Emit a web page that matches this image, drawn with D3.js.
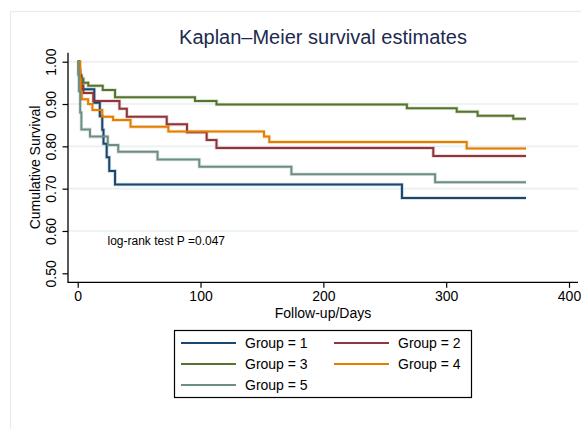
<!DOCTYPE html>
<html>
<head>
<meta charset="utf-8">
<script src="https://cdn.jsdelivr.net/npm/d3@7"></script>
<style>
  body { margin: 0; background: #fff; }
  svg { display: block; font-family: "Liberation Sans", Arial, sans-serif; }
</style>
</head>
<body>
<svg id="chart"></svg>
<script>
// ---- data ----
const groupNames = ['Group = 1', 'Group = 2', 'Group = 3', 'Group = 4', 'Group = 5'];

const g1Days = [0, 1, 3, 13.5, 18, 20, 21, 23.6, 25.7, 30.4, 264, 365];
const g1Surv = [1, 0.968, 0.935, 0.903, 0.871, 0.839, 0.806, 0.774, 0.742, 0.710, 0.678, 0.678];

const g2Days = [0, 1, 2, 3, 4.6, 12.7, 34, 40, 72.5, 89, 105, 113, 289.5, 365];
const g2Surv = [1, 0.981, 0.963, 0.944, 0.926, 0.907, 0.889, 0.870, 0.852, 0.833, 0.815, 0.796, 0.777, 0.777];

const g3Days = [0, 1, 2, 4.6, 8.6, 20.4, 30.4, 95.5, 113, 268, 308.6, 325.6, 354.6, 365];
const g3Surv = [1, 0.975, 0.96, 0.950, 0.943, 0.933, 0.916, 0.907, 0.899, 0.890, 0.882, 0.872, 0.865, 0.865];

const g4Days = [0, 2, 2.5, 3.3, 8.5, 12, 20, 28.8, 43, 73.8, 151.7, 156, 316.7, 365];
const g4Surv = [1, 0.96, 0.93, 0.911, 0.900, 0.886, 0.870, 0.862, 0.846, 0.835, 0.823, 0.810, 0.795, 0.795];

const g5Days = [0, 0.5, 1, 2, 3, 10, 24.5, 33, 65, 99, 174, 291, 365];
const g5Surv = [1, 0.97, 0.93, 0.88, 0.840, 0.823, 0.803, 0.787, 0.769, 0.752, 0.734, 0.715, 0.715];

const xTicks = [0, 100, 200, 300, 400];
const yTicks = [0.5, 0.6, 0.7, 0.8, 0.9, 1.0];
const gridTicks = [0.6, 0.7, 0.8, 0.9, 1.0];

const titleText = 'Kaplan–Meier survival estimates';
const xTitle = 'Follow-up/Days';
const yTitle = 'Cumulative Survival';
const noteText = 'log-rank test P =0.047';

// stata s2color line colours
const groupColors = ['#1a476f', '#90353b', '#55752f', '#e37e00', '#6e8e84'];

class KMPlot {
  constructor(_config, _data) {
    this.config = {
      parentElement: _config.parentElement,
      containerWidth: _config.containerWidth || 581,
      containerHeight: _config.containerHeight || 429,
      // plot region edges (axis lines)
      plot: _config.plot || { left: 68, right: 578, top: 52.7, bottom: 282.3 }
    };
    this.data = _data;
    this.initVis();
  }

  initVis() {
    let vis = this;
    const p = vis.config.plot;

    vis.svg = d3.select(vis.config.parentElement)
      .attr('width', vis.config.containerWidth)
      .attr('height', vis.config.containerHeight);

    // faint outer graph-region border
    vis.svg.append('rect')
      .attr('x', 10.5).attr('y', 11.5)
      .attr('width', 620).attr('height', 500)
      .attr('fill', 'none')
      .attr('stroke', '#e3ecee')
      .attr('stroke-width', 1.2);

    // scales: tick 0 / 400 and 0.5 / 1.0 sit a little inside the plot region
    vis.xScale = d3.scaleLinear().domain([0, 400]).range([77.7, 569]);
    vis.yScale = d3.scaleLinear().domain([0.5, 1]).range([273.3, 61.7]);

    vis.xAxis = d3.axisBottom(vis.xScale)
      .tickValues(xTicks)
      .tickSize(5.5)
      .tickPadding(3)
      .tickFormat(d3.format('d'));

    vis.yAxis = d3.axisLeft(vis.yScale)
      .tickValues(yTicks)
      .tickSize(5.5)
      .tickFormat(d3.format('.2f'));

    vis.gridG = vis.svg.append('g').attr('class', 'grid');
    vis.linesG = vis.svg.append('g').attr('class', 'curves');

    vis.xAxisG = vis.svg.append('g')
      .attr('class', 'axis x-axis')
      .attr('transform', `translate(0,${p.bottom})`);
    vis.yAxisG = vis.svg.append('g')
      .attr('class', 'axis y-axis')
      .attr('transform', `translate(${p.left},0)`);

    // titles
    vis.svg.append('text')
      .attr('x', (p.left + p.right) / 2)
      .attr('y', 44)
      .attr('text-anchor', 'middle')
      .attr('font-size', 20)
      .attr('fill', '#1c2a4e')
      .text(titleText);

    vis.svg.append('text')
      .attr('x', (p.left + p.right) / 2)
      .attr('y', 318)
      .attr('text-anchor', 'middle')
      .attr('font-size', 14)
      .attr('fill', '#000')
      .text(xTitle);

    vis.svg.append('text')
      .attr('transform', `translate(39.5,${(p.top + p.bottom) / 2}) rotate(-90)`)
      .attr('text-anchor', 'middle')
      .attr('font-size', 14)
      .attr('fill', '#000')
      .text(yTitle);

    vis.svg.append('text')
      .attr('x', 107.5)
      .attr('y', 245)
      .attr('font-size', 12)
      .attr('fill', '#000')
      .text(noteText);

    vis.updateVis();
  }

  updateVis() {
    let vis = this;
    vis.xValue = d => d.day;
    vis.yValue = d => d.surv;

    vis.line = d3.line()
      .curve(d3.curveStepAfter)
      .x(d => vis.xScale(vis.xValue(d)))
      .y(d => vis.yScale(vis.yValue(d)));

    vis.renderVis();
  }

  renderVis() {
    let vis = this;
    const p = vis.config.plot;

    // gridlines across the full plot region
    vis.gridG.selectAll('line')
      .data(gridTicks)
      .join('line')
      .attr('x1', p.left).attr('x2', p.right)
      .attr('y1', d => vis.yScale(d)).attr('y2', d => vis.yScale(d))
      .attr('stroke', '#e8f0f2')
      .attr('stroke-width', 1.6);

    // soft halo under each curve, then the curve itself
    vis.linesG.selectAll('.halo')
      .data(vis.data)
      .join('path')
      .attr('class', 'halo')
      .attr('d', d => vis.line(d.values))
      .attr('fill', 'none')
      .attr('stroke', (d, i) => groupColors[i])
      .attr('stroke-opacity', 0.22)
      .attr('stroke-width', 3.6);

    vis.linesG.selectAll('.curve')
      .data(vis.data)
      .join('path')
      .attr('class', 'curve')
      .attr('d', d => vis.line(d.values))
      .attr('fill', 'none')
      .attr('stroke', (d, i) => groupColors[i])
      .attr('stroke-width', 2);

    vis.xAxisG.call(vis.xAxis)
      .call(g => g.select('.domain').remove())
      .call(g => g.selectAll('.tick text').attr('font-size', 14).attr('fill', '#000'))
      .call(g => g.selectAll('.tick line').attr('stroke', '#000').attr('stroke-width', 1.2));
    vis.xAxisG.append('line')
      .attr('x1', p.left).attr('x2', p.right)
      .attr('stroke', '#000').attr('stroke-width', 1.3);

    vis.yAxisG.call(vis.yAxis)
      .call(g => g.select('.domain').remove())
      .call(g => g.selectAll('.tick line').attr('stroke', '#000').attr('stroke-width', 1.2))
      .call(g => g.selectAll('.tick text')
        .attr('transform', 'rotate(-90)')
        .attr('x', 0).attr('y', -12).attr('dy', 0)
        .attr('text-anchor', 'middle')
        .attr('font-size', 14).attr('fill', '#000'));
    vis.yAxisG.append('line')
      .attr('y1', p.top).attr('y2', p.bottom + 0.6)
      .attr('stroke', '#000').attr('stroke-width', 1.3);

    vis.renderLegend();
  }

  renderLegend() {
    let vis = this;
    const box = { x: 174.5, y: 330.5, w: 297, h: 67 };
    const rowY = [343, 364, 385];
    const colX = [181, 334];

    const lg = vis.svg.append('g').attr('class', 'legend');
    lg.append('rect')
      .attr('x', box.x).attr('y', box.y)
      .attr('width', box.w).attr('height', box.h)
      .attr('fill', '#fff')
      .attr('stroke', '#000').attr('stroke-width', 1.2);

    const items = lg.selectAll('.item')
      .data(vis.data)
      .join('g')
      .attr('class', 'item')
      .attr('transform', (d, i) => `translate(${colX[i % 2]},${rowY[Math.floor(i / 2)]})`);

    items.append('line')
      .attr('x1', 0).attr('x2', 55)
      .attr('stroke', (d, i) => groupColors[i])
      .attr('stroke-width', 2);

    items.append('text')
      .attr('x', 64)
      .attr('y', 5)
      .attr('font-size', 14)
      .attr('fill', '#000')
      .text(d => d.name);
  }
}

const dayLists = [g1Days, g2Days, g3Days, g4Days, g5Days];
const survLists = [g1Surv, g2Surv, g3Surv, g4Surv, g5Surv];
const kmData = groupNames.map((name, i) => ({
  name: name,
  values: dayLists[i].map((day, j) => ({ day: day, surv: survLists[i][j] }))
}));

const plot = new KMPlot({ parentElement: '#chart' }, kmData);
</script>
</body>
</html>
